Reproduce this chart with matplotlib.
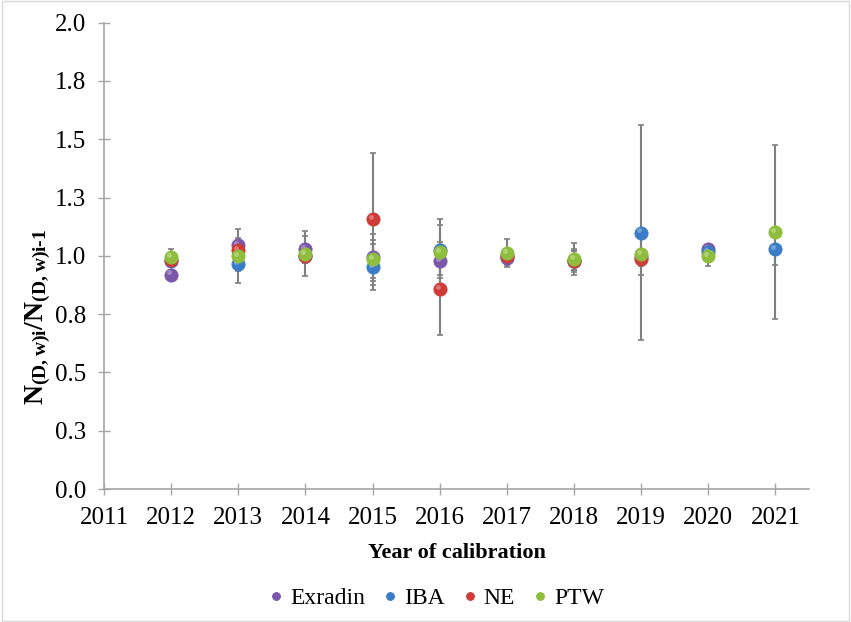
import matplotlib.pyplot as plt
import matplotlib.transforms as mtransforms
import numpy as np
from matplotlib.patches import Rectangle

plt.rcParams['font.family'] = ['Liberation Serif', 'DejaVu Serif']
plt.rcParams['mathtext.fontset'] = 'custom'
plt.rcParams['mathtext.rm'] = 'Liberation Serif:bold'
plt.rcParams['mathtext.bf'] = 'Liberation Serif:bold'
plt.rcParams['mathtext.default'] = 'bf'

# Ratio of consecutive calibration coefficients per manufacturer
years_exradin = [2012, 2013, 2014, 2015, 2016, 2017, 2018, 2019, 2020]
exradin = [0.92, 1.047, 1.03, 0.994, 0.976, 0.99, 0.979, 0.995, 1.028]
exradin_err = [0.02, 0.03, 0.057, 0.10, 0.07, 0.03, 0.05, 0.03, 0.015]

years_iba = [2012, 2013, 2014, 2015, 2016, 2017, 2018, 2019, 2020, 2021]
iba = [0.976, 0.964, 1.0, 0.952, 1.025, 1.0, 0.98, 1.10, 1.018, 1.03]
iba_err = [0.02, 0.03, 0.03, 0.10, 0.107, 0.03, 0.04, 0.463, 0.02, 0.068]

years_ne = [2012, 2013, 2014, 2015, 2016, 2017, 2018, 2019]
ne = [0.983, 1.023, 1.0, 1.158, 0.859, 0.998, 0.979, 0.987]
ne_err = [0.02, 0.03, 0.03, 0.282, 0.20, 0.03, 0.04, 0.03]

years_ptw = [2012, 2013, 2014, 2015, 2016, 2017, 2018, 2019, 2020, 2021]
ptw = [0.993, 1.0, 1.009, 0.986, 1.018, 1.011, 0.987, 1.009, 1.0, 1.101]
ptw_err = [0.037, 0.116, 0.097, 0.08, 0.139, 0.06, 0.07, 0.09, 0.045, 0.373]

series = [
    ('Exradin', years_exradin, exradin, exradin_err, '#7B57AA'),
    ('IBA', years_iba, iba, iba_err, '#3A7CC6'),
    ('NE', years_ne, ne, ne_err, '#CF3B37'),
    ('PTW', years_ptw, ptw, ptw_err, '#8EBE3C'),
]

yticks = np.arange(0, 2.01, 0.25)
ytick_labels = ['0.0', '0.3', '0.5', '0.8', '1.0', '1.3', '1.5', '1.8', '2.0']
xticks = np.arange(2011, 2022)

fig = plt.figure(figsize=(8.51, 6.22), dpi=100)
ax = fig.add_axes([0.1222, 0.2138, 0.8285, 0.7497])

# error bars go underneath all the markers
for name, x, y, err, color in series:
    ax.errorbar(x, y, yerr=err, fmt='none', ecolor='#7F7F7F', elinewidth=1.5,
                capsize=2.5, capthick=1.2, zorder=2)

# small shine on each ball, nudged up and to the left
shine = ax.transData + mtransforms.ScaledTranslation(-1.5 / 72, 1.5 / 72, fig.dpi_scale_trans)
for i, (name, x, y, err, color) in enumerate(series):
    ax.plot(x, y, 'o', color=color, markersize=9.5, markeredgecolor=color,
            markeredgewidth=0.6, label=name, zorder=3 + i)
    ax.plot(x, y, 'o', color='white', alpha=0.3, markersize=3.5,
            markeredgewidth=0, transform=shine, zorder=3 + i)

ax.set_xlim(2011, 2021.5)
ax.set_ylim(0, 2.0)
ax.set_xticks(xticks)
ax.set_xticklabels([str(v) for v in xticks], fontsize=18)
ax.set_yticks(yticks)
ax.set_yticklabels(ytick_labels, fontsize=18)
ax.tick_params(direction='inout', length=8, width=1, color='#A6A6A6')
ax.tick_params(axis='x', pad=9)
ax.tick_params(axis='y', pad=9)

for side in ['top', 'right']:
    ax.spines[side].set_visible(False)
for side in ['left', 'bottom']:
    ax.spines[side].set_color('#A6A6A6')
    ax.spines[side].set_linewidth(1.2)

ax.set_xlabel('Year of calibration', fontsize=16, fontweight='bold', labelpad=10)
ax.set_ylabel(r'$N_{(D,w)i}/N_{(D,w)i\text{-}1}$', fontsize=20)
ax.yaxis.set_label_coords(-0.072, 0.37)

handles, labels = ax.get_legend_handles_labels()
leg = fig.legend(handles, labels, loc='center', bbox_to_anchor=(0.513, 0.038),
                 ncol=4, frameon=False, fontsize=17, markerscale=0.6,
                 handlelength=0.6, handletextpad=0.3, columnspacing=0.75)

# light frame round the whole chart
fig.patches.append(Rectangle((0.002, 0.002), 0.996, 0.996, transform=fig.transFigure,
                             fill=False, edgecolor='#D9D9D9', linewidth=1))

fig.savefig('out.png', dpi=100)
